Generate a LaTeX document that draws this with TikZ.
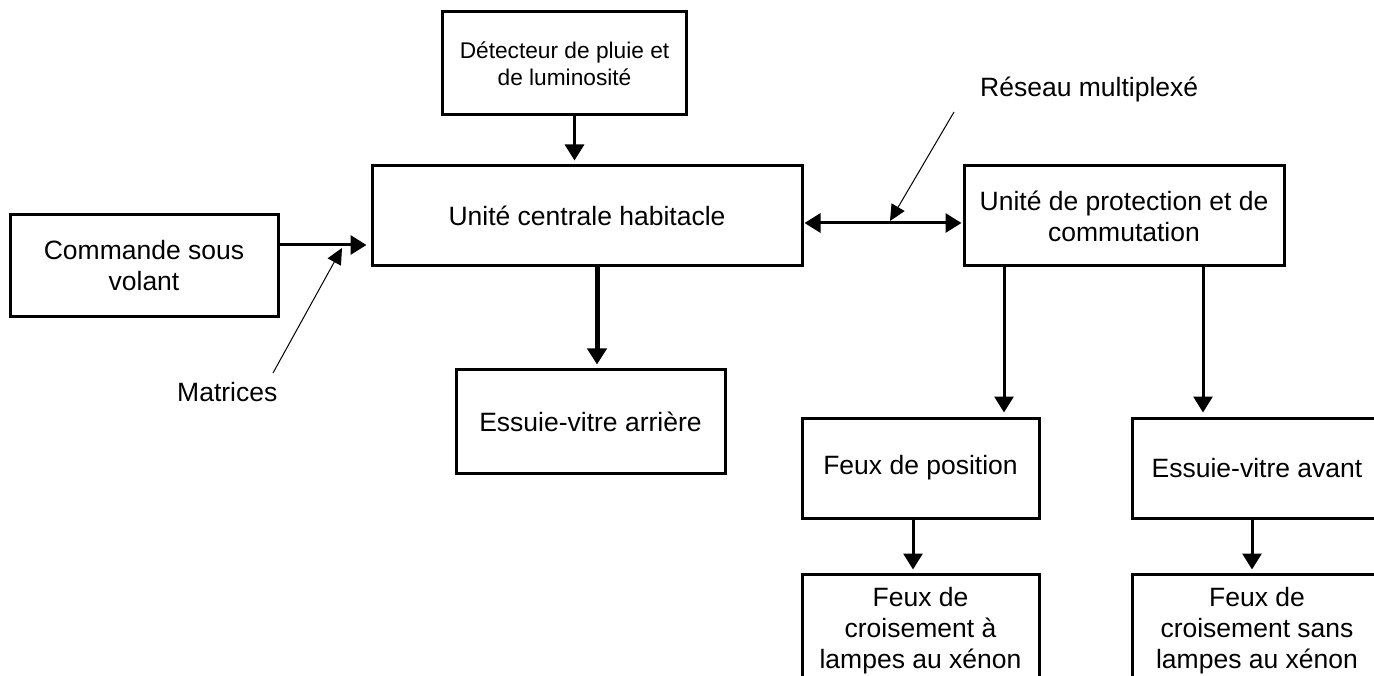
\documentclass[tikz,border=0pt]{standalone}
\usepackage{fontspec}
\setmainfont{Liberation Sans}
\usetikzlibrary{arrows.meta, positioning}

\begin{document}
\begin{tikzpicture}[x=1pt, y=-1pt,
	box/.style={draw, line width=3pt, align=center, inner sep=0pt, font=\fontsize{26.5}{31}\selectfont},
	arr/.style={-{Triangle[width=19pt,length=16pt]}, line width=3pt, shorten >=4pt},
	arrboth/.style={{Triangle[width=19pt,length=16pt]}-{Triangle[width=19pt,length=16pt]}, line width=3pt, shorten >=1pt, shorten <=1pt},
	ptr/.style={-{Triangle[width=15pt,length=16pt]}, line width=1pt},
	lbl/.style={anchor=base west, inner sep=0pt, font=\fontsize{26.5}{31}\selectfont}]
\useasboundingbox (0,0) rectangle (1374,676);
\clip (0,0) rectangle (1374,676);

% boxes
\node[box, minimum width=244pt, minimum height=103pt, font=\fontsize{22.7}{27}\selectfont] (det) at (564.5,63.5) {Détecteur de pluie et\\de luminosité};
\node[box, minimum width=430pt, minimum height=100pt] (uch) at (587,216) {Unité centrale habitacle};
\node[box, minimum width=268pt, minimum height=102pt] (cmd) at (144,266) {Commande sous\\volant};
\node[box, minimum width=269pt, minimum height=103pt, below=101pt of uch, xshift=3.5pt] (evar) {Essuie-vitre arrière};
\node[box, minimum width=320pt, minimum height=100pt] (upc) at (1124,216) {Unité de protection et de\\commutation};
\node[box, minimum width=237pt, minimum height=100pt] (fpos) at (920.5,468) {Feux de position};
\node[box, minimum width=250pt, minimum height=100pt] (evav) at (1257,468) {Essuie-vitre avant};
\node[box, minimum width=237pt, inner ysep=13pt, text depth=200pt, below=53pt of fpos] (fxa) {Feux de\\croisement à\\lampes au xénon};
\node[box, minimum width=250pt, inner ysep=13pt, text depth=200pt, below=53pt of evav] (fxs) {Feux de\\croisement sans\\lampes au xénon};

% labels
\node[lbl] (mat) at (177,402) {Matrices};
\node[lbl] (res) at (980,97) {Réseau multiplexé};
\coordinate (mat-a) at (273,373);
\coordinate (mat-b) at (342,248);
\coordinate (res-a) at (954,112);
\coordinate (res-b) at (890,221);

% links
\draw[arr] ([xshift=10pt]det.south) -- ([xshift=10pt]det.south |- uch.north);
\draw[arr] ([yshift=21pt]cmd.east) -- ([yshift=21pt]cmd.east -| uch.west);
\draw[arr, line width=5pt] ([xshift=10pt]uch.south) -- ([xshift=10pt]uch.south |- evar.north);
\draw[arrboth] ([yshift=-7pt]uch.east) -- ([yshift=-7pt]uch.east -| upc.west);
\draw[arr] ([xshift=-120pt]upc.south) -- ([xshift=-120pt]upc.south |- fpos.north);
\draw[arr] ([xshift=79pt]upc.south) -- ([xshift=79pt]upc.south |- evav.north);
\draw[arr, shorten >=3pt] ([xshift=-7.5pt]fpos.south) -- ([xshift=-7.5pt]fpos.south |- fxa.north);
\draw[arr, shorten >=3pt] ([xshift=-5pt]evav.south) -- ([xshift=-5pt]evav.south |- fxs.north);
\draw[ptr] (mat-a) -- (mat-b);
\draw[ptr] (res-a) -- (res-b);
\end{tikzpicture}
\end{document}
